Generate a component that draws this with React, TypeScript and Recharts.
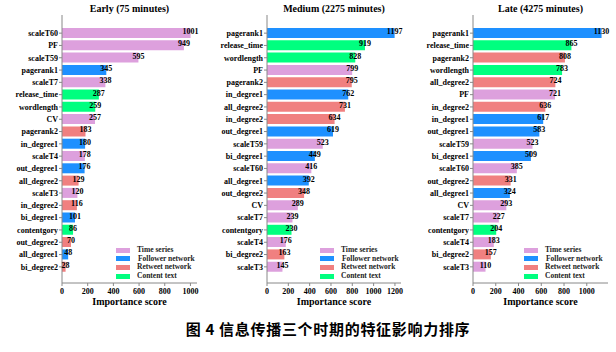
import { BarChart, Bar, XAxis, YAxis, Cell, LabelList } from 'recharts';

// feature groups: 0 time series, 1 follower network, 2 retweet network, 3 content text
const GROUPS = ['Time series', 'Follower network', 'Retweet network', 'Content text'];
const GROUP_COLORS = ['#DDA0DD', '#1E90FF', '#F08080', '#00FF7F'];

const earlyFeatures = [
  'scaleT60', 'PF', 'scaleT59', 'pagerank1', 'scaleT7', 'release_time', 'wordlength', 'CV',
  'pagerank2', 'in_degree1', 'scaleT4', 'out_degree1', 'all_degree2', 'scaleT3', 'in_degree2',
  'bi_degree1', 'contentgory', 'out_degree2', 'all_degree1', 'bi_degree2',
];
const earlyScores = [1001, 949, 595, 345, 338, 287, 259, 257, 183, 180, 178, 176, 129, 120, 116, 101, 86, 70, 48, 28];
const earlyGroups = [0, 0, 0, 1, 0, 3, 3, 0, 2, 1, 0, 1, 2, 0, 2, 1, 3, 2, 1, 2];

const mediumFeatures = [
  'pagerank1', 'release_time', 'wordlength', 'PF', 'pagerank2', 'in_degree1', 'all_degree2',
  'in_degree2', 'out_degree1', 'scaleT59', 'bi_degree1', 'scaleT60', 'all_degree1', 'out_degree2',
  'CV', 'scaleT7', 'contentgory', 'scaleT4', 'bi_degree2', 'scaleT3',
];
const mediumScores = [1197, 919, 828, 799, 795, 762, 731, 634, 619, 523, 449, 416, 392, 348, 289, 239, 230, 176, 163, 145];
const mediumGroups = [1, 3, 3, 0, 2, 1, 2, 2, 1, 0, 1, 0, 1, 2, 0, 0, 3, 0, 2, 0];

const lateFeatures = [
  'pagerank1', 'release_time', 'pagerank2', 'wordlength', 'all_degree2', 'PF', 'in_degree2',
  'in_degree1', 'out_degree1', 'scaleT59', 'bi_degree1', 'scaleT60', 'out_degree2', 'all_degree1',
  'CV', 'scaleT7', 'contentgory', 'scaleT4', 'bi_degree2', 'scaleT3',
];
const lateScores = [1130, 865, 808, 783, 724, 721, 636, 617, 583, 523, 509, 385, 331, 324, 293, 227, 204, 183, 157, 110];
const lateGroups = [1, 3, 2, 3, 2, 0, 2, 1, 1, 0, 1, 0, 2, 1, 0, 0, 3, 0, 2, 0];

const ticks1000 = [0, 200, 400, 600, 800, 1000];
const ticks1200 = [0, 200, 400, 600, 800, 1000, 1200];

const SERIF = '"Liberation Serif", "Times New Roman", serif';
const FRAME = '#888';

function ValueLabel(props: any) {
  const { x, y, width, height, value } = props;
  return (
    <text
      x={Number(x) + Number(width)}
      y={Number(y) + Number(height) / 2 + 1}
      textAnchor="middle"
      fontSize={8}
      fontWeight="bold"
      fontFamily={SERIF}
      fill="#000"
    >
      {value}
    </text>
  );
}

function Panel({
  title,
  features,
  scores,
  groups,
  ticks,
  left,
  width,
  legendX,
}: {
  title: string;
  features: string[];
  scores: number[];
  groups: number[];
  ticks: number[];
  left: number;
  width: number;
  legendX: number;
}) {
  const data = features.map((name, i) => ({ name, score: scores[i], group: groups[i] }));
  const domain = [0, Math.max(...scores) * 1.05];
  const plotLeft = left + 62;
  const plotRight = left + width - 8;
  const tick = { fontSize: 8, fontWeight: 'bold', fill: '#000', fontFamily: SERIF };

  return (
    <>
      <div
        style={{
          position: 'absolute',
          left: plotLeft,
          width: plotRight - plotLeft,
          top: 3,
          textAlign: 'center',
          fontFamily: SERIF,
          fontWeight: 'bold',
          fontSize: 10,
          lineHeight: '12px',
          color: '#000',
          whiteSpace: 'nowrap',
        }}
      >
        {title}
      </div>
      <div style={{ position: 'absolute', left, top: 0 }}>
        <BarChart
          width={width}
          height={310}
          data={data}
          layout="vertical"
          margin={{ top: 15, right: 8, bottom: 5, left: 0 }}
        >
          <XAxis
            type="number"
            dataKey="score"
            domain={domain}
            ticks={ticks}
            allowDataOverflow
            height={22}
            tickSize={3}
            stroke={FRAME}
            tick={tick}
            label={{
              value: 'Importance score',
              position: 'insideBottom',
              offset: 0,
              style: { fontSize: 10, fontWeight: 'bold', fill: '#000', fontFamily: SERIF },
            }}
          />
          <XAxis
            xAxisId="top"
            orientation="top"
            type="number"
            domain={domain}
            height={0}
            tick={false}
            tickLine={false}
            stroke={FRAME}
          />
          <YAxis
            type="category"
            dataKey="name"
            width={62}
            interval={0}
            tickSize={3}
            tickMargin={1}
            stroke={FRAME}
            tick={tick}
            padding={{ top: 12, bottom: 10 }}
          />
          <YAxis
            yAxisId="right"
            orientation="right"
            type="category"
            dataKey="name"
            width={0}
            tick={false}
            tickLine={false}
            stroke={FRAME}
          />
          <Bar dataKey="score" barSize={10} isAnimationActive={false}>
            {data.map((d) => (
              <Cell key={d.name} fill={GROUP_COLORS[d.group]} />
            ))}
            <LabelList dataKey="score" content={<ValueLabel />} />
          </Bar>
        </BarChart>
      </div>
      <div style={{ position: 'absolute', left: legendX, top: 246, fontFamily: SERIF }}>
        {GROUPS.map((g, i) => (
          <div key={g} style={{ display: 'flex', alignItems: 'center', height: 8.6 }}>
            <div style={{ width: 14, height: 5, background: GROUP_COLORS[i] }} />
            <span
              style={{
                marginLeft: i === 1 ? 8 : 7,
                fontSize: 7.5,
                fontWeight: 'bold',
                color: '#222',
                whiteSpace: 'nowrap',
                lineHeight: '8px',
              }}
            >
              {g}
            </span>
          </div>
        ))}
      </div>
    </>
  );
}

export default function App() {
  return (
    <div
      style={{
        position: 'absolute',
        left: 0,
        top: 0,
        width: 616,
        height: 352,
        background: '#fff',
        overflow: 'hidden',
      }}
    >
      <Panel
        title="Early (75 minutes)"
        features={earlyFeatures}
        scores={earlyScores}
        groups={earlyGroups}
        ticks={ticks1000}
        left={0}
        width={205}
        legendX={116}
      />
      <Panel
        title="Medium (2275 minutes)"
        features={mediumFeatures}
        scores={mediumScores}
        groups={mediumGroups}
        ticks={ticks1200}
        left={205}
        width={204}
        legendX={320}
      />
      <Panel
        title="Late (4275 minutes)"
        features={lateFeatures}
        scores={lateScores}
        groups={lateGroups}
        ticks={ticks1000}
        left={411}
        width={205}
        legendX={524}
      />
      <div
        style={{
          position: 'absolute',
          left: 0,
          width: 656,
          top: 319,
          textAlign: 'center',
          fontFamily: '"Noto Sans CJK SC", sans-serif',
          fontWeight: 'bold',
          fontSize: 15,
          letterSpacing: 0.7,
          lineHeight: '20px',
          color: '#000',
          whiteSpace: 'pre',
        }}
      >
        图 4 信息传播三个时期的特征影响力排序
      </div>
    </div>
  );
}
